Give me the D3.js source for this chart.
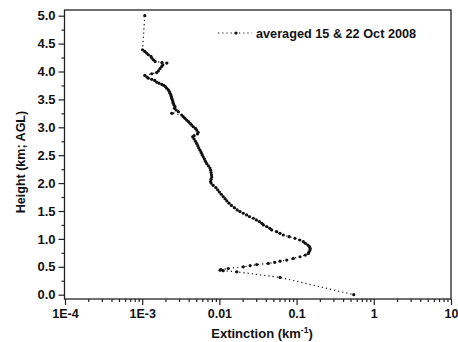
<!DOCTYPE html>
<html><head><meta charset="utf-8">
<script src="https://cdn.jsdelivr.net/npm/d3@7"></script>
<style>body{margin:0;background:#fff}svg{display:block}text{font-family:"Liberation Sans",Arial,sans-serif;font-weight:bold;fill:#111}</style>
</head><body><svg id="c" width="458" height="342"></svg>
<script>
const heights = [5.00,4.39,4.36,4.33,4.30,4.27,4.24,4.21,4.18,4.16,4.15,4.12,4.09,4.05,4.01,3.98,3.96,3.93,3.90,3.88,3.86,3.84,3.81,3.79,3.77,3.75,3.73,3.70,3.67,3.64,3.61,3.58,3.55,3.52,3.49,3.46,3.43,3.40,3.37,3.34,3.31,3.28,3.25,3.22,3.19,3.16,3.13,3.10,3.07,3.04,3.01,2.98,2.95,2.91,2.88,2.85,2.83,2.79,2.75,2.71,2.67,2.63,2.59,2.55,2.51,2.47,2.43,2.39,2.35,2.31,2.27,2.23,2.19,2.15,2.11,2.07,2.03,2.00,1.96,1.92,1.88,1.84,1.80,1.76,1.72,1.68,1.64,1.60,1.56,1.52,1.49,1.46,1.43,1.40,1.37,1.34,1.31,1.28,1.25,1.22,1.19,1.16,1.13,1.10,1.07,1.04,1.01,0.98,0.95,0.92,0.89,0.86,0.83,0.80,0.77,0.74,0.71,0.68,0.65,0.62,0.60,0.58,0.56,0.54,0.52,0.50,0.47,0.45,0.44,0.43,0.41,0.31,0.00];
const extinction = [0.00108,0.00101,0.00108,0.00114,0.00120,0.00130,0.00133,0.00140,0.00147,0.00180,0.00208,0.00185,0.00179,0.00170,0.00162,0.00154,0.00133,0.00108,0.00115,0.00120,0.00133,0.00145,0.00154,0.00165,0.00179,0.00190,0.00200,0.00208,0.00218,0.00225,0.00229,0.00235,0.00238,0.00241,0.00246,0.00250,0.00253,0.00258,0.00266,0.00262,0.00275,0.00294,0.00241,0.00325,0.00340,0.00358,0.00377,0.00398,0.00418,0.00438,0.00460,0.00490,0.00508,0.00530,0.00520,0.00470,0.00451,0.00470,0.00490,0.00508,0.00525,0.00540,0.00561,0.00580,0.00598,0.00618,0.00640,0.00660,0.00684,0.00720,0.00755,0.00770,0.00780,0.00790,0.00795,0.00780,0.00770,0.00780,0.00830,0.00900,0.00950,0.01000,0.01060,0.01120,0.01183,0.01250,0.01330,0.01430,0.01560,0.01700,0.0185,0.0204,0.0225,0.0245,0.0275,0.0300,0.0330,0.0355,0.0371,0.0410,0.0450,0.0475,0.0552,0.0610,0.0673,0.0800,0.0953,0.1100,0.1222,0.1300,0.1400,0.1470,0.1500,0.1490,0.1450,0.1420,0.1300,0.1107,0.0906,0.0745,0.0610,0.0520,0.0430,0.0304,0.0250,0.0204,0.0130,0.0105,0.0102,0.0112,0.0168,0.0610,0.55];
const xTickValues = [1e-4,1e-3,1e-2,1e-1,1,10];
const xTickLabels = ["1E-4","1E-3","0.01","0.1","1","10"];
const yTickValues = [0,0.5,1,1.5,2,2.5,3,3.5,4,4.5,5];
const legendLabel = "averaged 15 & 22 Oct 2008";

const svg = d3.select("#c");
const L=64.5, R=451, T=10, B=299;
const x = d3.scaleLog().domain([1e-4,10]).range([L+0.5,R]);
const y = d3.scaleLinear().domain([-0.077,5.102]).range([B,T]);

// frame
svg.append("rect").attr("x",L).attr("y",T).attr("width",R-L).attr("height",B-T)
  .attr("fill","none").attr("stroke","#222").attr("stroke-width",1.3);

// x axis
const xMinor = [];
for (let e=-4;e<1;e++) for (let k=2;k<=9;k++) xMinor.push(k*Math.pow(10,e));
const gx = svg.append("g").attr("transform",`translate(0,${B})`);
gx.call(d3.axisBottom(x).tickValues(xMinor).tickSize(3).tickFormat(""));
gx.append("g").call(d3.axisBottom(x).tickValues(xTickValues).tickSize(6).tickPadding(4)
  .tickFormat((d,i)=>xTickLabels[i]));
gx.selectAll("path.domain").remove();
gx.selectAll("line").attr("stroke","#222").attr("stroke-width",1.2);
gx.selectAll("text").attr("font-size",12.5).attr("fill","#111").attr("font-family",null);

// y axis
const yMinor = d3.range(0.25,5.01,0.5);
const gy = svg.append("g").attr("transform",`translate(${L},0)`);
gy.call(d3.axisLeft(y).tickValues(yMinor).tickSize(3).tickFormat(""));
gy.append("g").call(d3.axisLeft(y).tickValues(yTickValues).tickSize(6).tickPadding(3)
  .tickFormat(d3.format(".1f")));
gy.selectAll("path.domain").remove();
gy.selectAll("line").attr("stroke","#222").attr("stroke-width",1.2);
gy.selectAll("text").attr("font-size",13).attr("fill","#111").attr("font-family",null);

// axis titles
svg.append("text").attr("transform","translate(25,162) rotate(-90)")
  .attr("text-anchor","middle").attr("font-size",12.5).text("Height (km; AGL)");
const xt = svg.append("text").attr("x",262).attr("y",338).attr("text-anchor","middle").attr("font-size",13);
xt.append("tspan").text("Extinction (km");
xt.append("tspan").attr("dy",-5).attr("font-size",8.5).text("-1");
xt.append("tspan").attr("dy",5).text(")");

// data
const pts = heights.map((h,i)=>({h, e: extinction[i]}));
const line = d3.line().x(d=>x(d.e)).y(d=>y(d.h));
svg.append("path").attr("d",line(pts)).attr("fill","none").attr("stroke","#111")
  .attr("stroke-width",1.2).attr("stroke-dasharray","1.2,3");
svg.append("g").selectAll("circle").data(pts).join("circle")
  .attr("cx",d=>x(d.e)).attr("cy",d=>y(d.h)).attr("r",1.6).attr("fill","#111");

// legend
const ly = 33;
svg.append("line").attr("x1",218).attr("x2",252).attr("y1",ly).attr("y2",ly)
  .attr("stroke","#111").attr("stroke-width",1.2).attr("stroke-dasharray","1.2,3");
svg.append("circle").attr("cx",236).attr("cy",ly).attr("r",1.6).attr("fill","#111");
svg.append("text").attr("x",256).attr("y",ly+4.5).attr("font-size",12.7).text(legendLabel);
</script></body></html>
